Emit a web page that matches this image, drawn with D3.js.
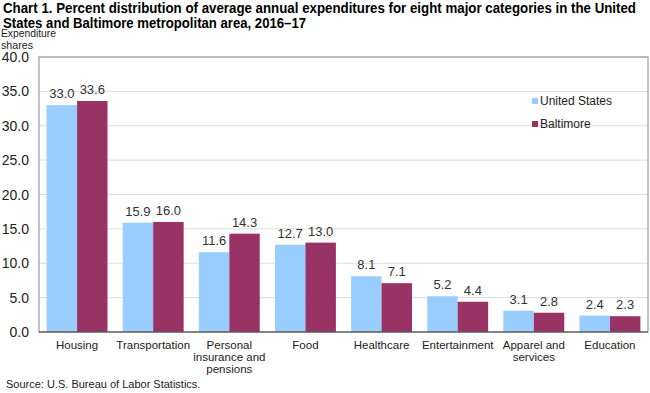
<!DOCTYPE html>
<html>
<head>
<meta charset="utf-8">
<script src="https://cdn.jsdelivr.net/npm/d3@7"></script>
<style>
  body { margin: 0; background: #fff; }
  svg { font-family: Arial, "Liberation Sans", sans-serif; display: block; }
</style>
</head>
<body>
<svg width="650" height="393"></svg>
<script>
// Chart data
const categories = [
  ["Housing"], ["Transportation"], ["Personal", "insurance and", "pensions"], ["Food"],
  ["Healthcare"], ["Entertainment"], ["Apparel and", "services"], ["Education"]
];
const unitedStates = [33.0, 15.9, 11.6, 12.7, 8.1, 5.2, 3.1, 2.4];
const baltimore = [33.6, 16.0, 14.3, 13.0, 7.1, 4.4, 2.8, 2.3];
const seriesNames = ["United States", "Baltimore"];
const yTicks = [0, 5, 10, 15, 20, 25, 30, 35, 40];

const
  COLORS = ["#99CCFF", "#993366"],
  margin = {left: 39, right: 2, top: 57, bottom: 61},
  width = 650, height = 393;

const svg = d3.select("svg");

const x = d3.scaleBand()
  .domain(d3.range(categories.length))
  .range([margin.left, width - margin.right])
  .paddingInner(0.2).paddingOuter(0.1);
const sub = d3.scaleBand().domain([0, 1]).range([0, x.bandwidth()]);
const y = d3.scaleLinear().domain([0, 40]).range([height - margin.bottom, margin.top]);

// Title (narrow face, stretched to the original line widths)
const titleLines = [
  {text: "Chart 1. Percent distribution of average annual expenditures for eight major categories in the United", len: 633},
  {text: "States and Baltimore metropolitan area, 2016\u201317", len: 303}
];
svg.append("g")
  .selectAll("text").data(titleLines).enter()
  .append("text")
    .attr("x", 3).attr("y", (d, i) => 13 + i * 15)
    .attr("textLength", d => d.len).attr("lengthAdjust", "spacingAndGlyphs")
    .style("font-family", "'Liberation Sans Narrow', 'Arial Narrow', Arial, sans-serif")
    .style("font-size", "14px").style("font-weight", "bold").attr("fill", "#000")
    .text(d => d.text);

// Y axis title
svg.append("g")
  .selectAll("text").data(["Expenditure", "shares"]).enter()
  .append("text")
    .attr("x", 1).attr("y", (d, i) => 37 + i * 12)
    .attr("textLength", (d, i) => i ? 32 : 55).attr("lengthAdjust", "spacingAndGlyphs")
    .style("font-size", "11px").attr("fill", "#222")
    .text(d => d);

// Gridlines
svg.append("g")
  .selectAll("line").data(yTicks.slice(1)).enter()
  .append("line")
    .attr("x1", margin.left).attr("x2", width - margin.right)
    .attr("y1", d => y(d)).attr("y2", d => y(d))
    .attr("stroke", "#dcdcdc").attr("stroke-width", 1);

// Y tick labels
svg.append("g")
  .selectAll("text").data(yTicks).enter()
  .append("text")
    .attr("x", 29).attr("y", d => y(d) + 5)
    .attr("text-anchor", "end")
    .style("font-size", "14px").attr("fill", "#222")
    .text(d => d.toFixed(1));

// Bars
const groups = svg.append("g")
  .selectAll("g").data(categories).enter()
  .append("g")
    .attr("transform", (d, i) => `translate(${x(i)},0)`);

[unitedStates, baltimore].forEach(function(series, s) {
  groups.append("rect")
    .attr("x", sub(s))
    .attr("width", sub.bandwidth())
    .attr("y", (d, i) => y(series[i]))
    .attr("height", (d, i) => y(0) - y(series[i]))
    .attr("fill", COLORS[s]);
  groups.append("text")
    .attr("x", sub(s) + sub.bandwidth() / 2)
    .attr("y", (d, i) => y(series[i]) - 7)
    .attr("text-anchor", "middle")
    .style("font-size", "13px").attr("fill", "#333")
    .text((d, i) => series[i].toFixed(1));
});

// Category labels
groups.append("text")
  .attr("x", x.bandwidth() / 2)
  .attr("y", y(0) + 17)
  .attr("text-anchor", "middle")
  .style("font-size", "11.5px").attr("fill", "#222")
  .selectAll("tspan").data(d => d).enter()
  .append("tspan")
    .attr("x", x.bandwidth() / 2)
    .attr("dy", (d, i) => i ? 12 : 0)
    .text(d => d);

// Plot frame
svg.append("rect")
  .attr("x", margin.left).attr("y", margin.top)
  .attr("width", width - margin.right - margin.left)
  .attr("height", y(0) - margin.top)
  .attr("fill", "none").attr("stroke", "#888");
svg.append("line")
  .attr("x1", margin.left).attr("x2", width - margin.right)
  .attr("y1", y(0)).attr("y2", y(0))
  .attr("stroke", "#444");

// Legend
const legend = svg.append("g")
  .selectAll("g").data(seriesNames).enter()
  .append("g")
    .attr("transform", (d, i) => `translate(532,${103 + i * 23})`);
legend.append("rect")
  .attr("x", 0).attr("y", -5).attr("width", 6).attr("height", 6)
  .attr("fill", (d, i) => COLORS[i]);
legend.append("text")
  .attr("x", 8).attr("y", 2)
  .style("font-size", "12px").attr("fill", "#222")
  .text(d => d);

// Source
svg.append("text")
  .attr("x", 6).attr("y", 388)
  .style("font-size", "11px").attr("fill", "#222")
  .text("Source: U.S. Bureau of Labor Statistics.");
</script>
</body>
</html>
